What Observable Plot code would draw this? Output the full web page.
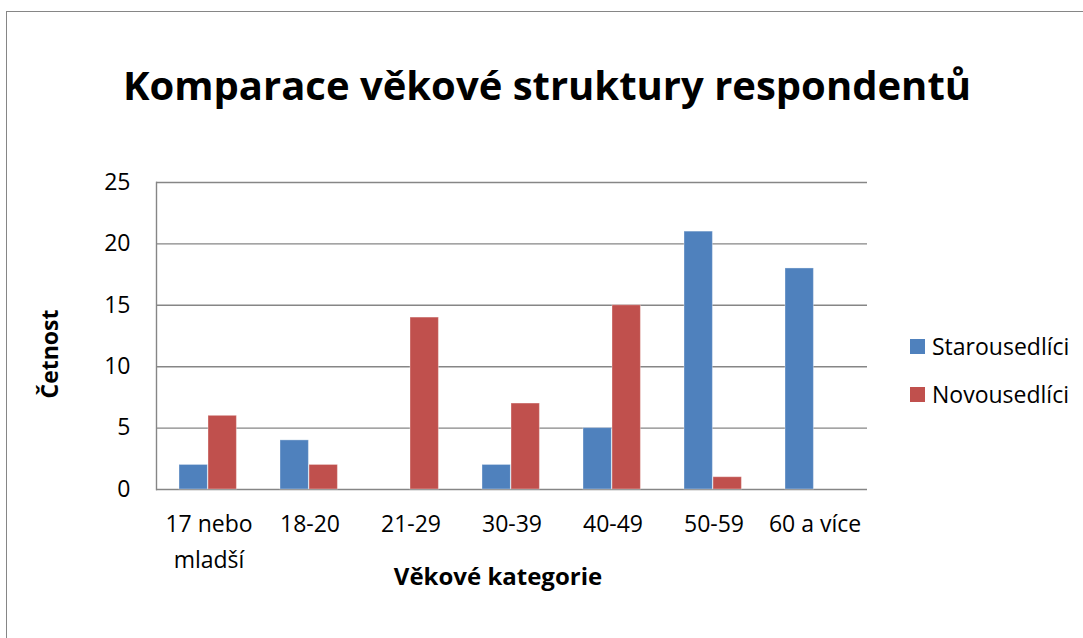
<!DOCTYPE html>
<html>
<head>
<meta charset="utf-8">
<script src="https://cdn.jsdelivr.net/npm/d3@7"></script>
<script src="https://cdn.jsdelivr.net/npm/@observablehq/plot@0.6"></script>
<style>
  html, body { margin: 0; padding: 0; background: #fff; }
  #wrap { position: relative; width: 1083px; height: 638px; overflow: hidden; font-family: "Open Sans", sans-serif; color: #000; }
  #border { position: absolute; left: 6px; top: 11px; width: 1200px; height: 800px; border: 1.5px solid #868686; box-sizing: border-box; }
  #chart { position: absolute; left: 0; top: 0; }
  .title { position: absolute; left: 0; width: 1094px; top: 65px; text-align: center; font-weight: bold; font-size: 40px; line-height: 1; white-space: nowrap; }
  .xlabel { position: absolute; left: 348px; width: 300px; top: 560px; text-align: center; font-weight: bold; font-size: 24px; line-height: 1.3; white-space: nowrap; }
  .ylabel { position: absolute; left: 49px; top: 354px; transform: translate(-50%, -50%) rotate(-90deg); font-weight: bold; font-size: 23px; white-space: nowrap; }
  .legend { position: absolute; left: 910px; font-size: 23px; white-space: nowrap; }
  .legend .item { position: absolute; left: 0; display: flex; align-items: center; }
  .legend .sw { width: 15px; height: 15px; margin-right: 7px; }
</style>
</head>
<body>
<div id="wrap">
  <div id="border"></div>
  <div id="chart"></div>
  <div class="title" id="title"></div>
  <div class="ylabel" id="ylabel"></div>
  <div class="xlabel" id="xlabel"></div>
  <div class="legend" id="legend"></div>
</div>
<script>
const titleText = "Komparace věkové struktury respondentů";
const xTitle = "Věkové kategorie";
const yTitle = "Četnost";
const categories = ["17 nebo\nmladší", "18-20", "21-29", "30-39", "40-49", "50-59", "60 a více"];
const seriesNames = ["Starousedlíci", "Novousedlíci"];
const starousedlici = [2, 4, 0, 2, 5, 21, 18];
const novousedlici = [6, 2, 14, 7, 15, 1, 0];
const yTicks = [0, 5, 10, 15, 20, 25];
const colors = ["#4F81BD", "#C0504D"];

const dataS = categories.map((c, i) => ({cat: c, value: starousedlici[i]})).filter(d => d.value > 0);
const dataN = categories.map((c, i) => ({cat: c, value: novousedlici[i]})).filter(d => d.value > 0);

const plot = Plot.plot({
  width: 1083,
  height: 638,
  marginLeft: 156,
  marginRight: 216,
  marginTop: 182,
  marginBottom: 149,
  x: {domain: categories, padding: 0},
  y: {domain: [0, 25]},
  style: {fontFamily: "'Open Sans', sans-serif", fontSize: "23px", color: "#000", background: "transparent", overflow: "visible"},
  marks: [
    Plot.ruleY(yTicks, {stroke: "#868686", strokeWidth: 1.4}),
    Plot.frame({anchor: "left", stroke: "#868686", strokeWidth: 1.4}),
    Plot.barY(dataS, {x: "cat", y: "value", fill: colors[0], stroke: "#fff", strokeOpacity: 0.35, strokeWidth: 1, insetLeft: 21, insetRight: 51.6}),
    Plot.barY(dataN, {x: "cat", y: "value", fill: colors[1], stroke: "#fff", strokeOpacity: 0.35, strokeWidth: 1, insetLeft: 50, insetRight: 22.6}),
    Plot.axisY({ticks: yTicks, tickSize: 0, tickPadding: 26, label: null, fontSize: 23, fill: "#000"}),
    Plot.axisX({tickSize: 0, tickPadding: 16, label: null, lineHeight: 1.6, fontSize: 23, fill: "#000"})
  ]
});
document.getElementById("chart").appendChild(plot);

document.getElementById("title").textContent = titleText;
document.getElementById("xlabel").textContent = xTitle;
document.getElementById("ylabel").textContent = yTitle;
const legend = document.getElementById("legend");
const legendTops = [330, 378];
seriesNames.forEach((name, i) => {
  const item = document.createElement("div");
  item.className = "item";
  item.style.top = legendTops[i] + "px";
  const sw = document.createElement("div");
  sw.className = "sw";
  sw.style.background = colors[i];
  const t = document.createElement("span");
  t.textContent = name;
  item.appendChild(sw);
  item.appendChild(t);
  legend.appendChild(item);
});
</script>
</body>
</html>
